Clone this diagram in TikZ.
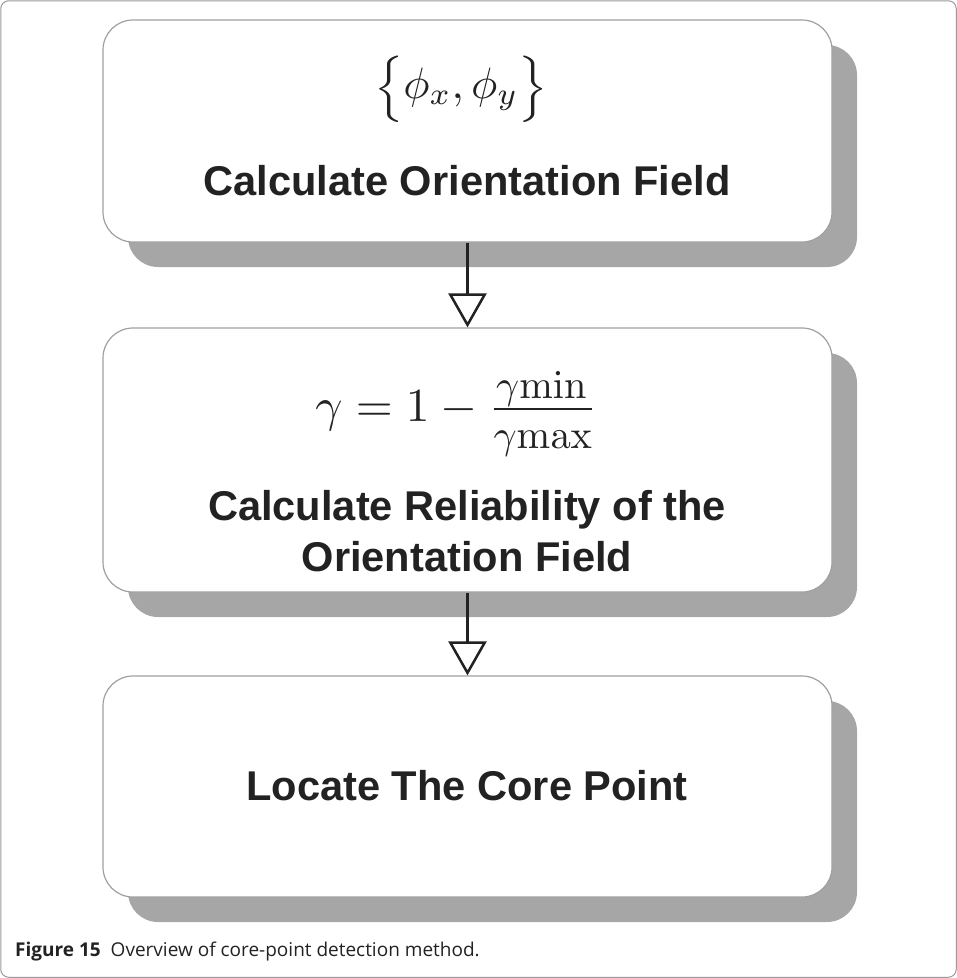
\documentclass[tikz,border=0pt]{standalone}
\usepackage[no-math]{fontspec}
\usepackage{graphicx}
\setmainfont{Liberation Sans}
\newfontfamily\capfont{Open Sans}
\usetikzlibrary{shadows,arrows.meta}
\definecolor{boxline}{HTML}{A0A0A0}
\definecolor{shadowgray}{HTML}{A6A6A6}
\definecolor{framecol}{HTML}{9A9A9A}
\definecolor{inkcol}{HTML}{222222}
\newcommand{\lbr}{\scalebox{1}[0.84]{$\Bigl\{$}}
\newcommand{\rbr}{\scalebox{1}[0.84]{$\Bigr\}$}}
\begin{document}
\begin{tikzpicture}[x=1pt,y=-1pt,
  box/.style={draw=boxline, line width=1.2pt, fill=white, rounded corners=30pt,
    minimum width=729pt, inner sep=0pt,
    drop shadow={shadow xshift=25pt, shadow yshift=-25pt, fill=shadowgray, opacity=1}},
  lbl/.style={text=inkcol, font=\fontsize{41.6}{51}\selectfont\bfseries, inner sep=0pt, anchor=base},
  mathtxt/.style={text=inkcol, inner sep=0pt},
  arr/.style={line width=2.5pt, draw=inkcol,
    -{Triangle[open, length=34pt, width=38pt, fill=white, line width=2.5pt]}},
  frame/.style={draw=framecol, line width=1pt, rounded corners=8pt}]
\useasboundingbox (0,0) rectangle (957,978);
\draw[frame] (0.75,0.75) rectangle (956.25,977.25);
\node[box, minimum height=222pt] (b1) at (467.5,131) {};
\node[box, minimum height=264pt] (b2) at (467.5,460) {};
\node[box, minimum height=221pt] (b3) at (467.5,786.5) {};
\node[mathtxt] (m1) at (461,89) {\scalebox{4.4}{$\mathopen{\lbr}\phi_x,\phi_y\mathclose{\rbr}$}};
\node[lbl] (t1) at (467,195) {Calculate Orientation Field};
\node[mathtxt, anchor=base] (m2) at (456.5,421) {\scalebox{4.75}{$\gamma = 1-\frac{\scalebox{0.85}{$\gamma\mathrm{min}$}}{\rule{0pt}{7.6pt}\scalebox{0.85}{$\gamma\mathrm{max}$}}$}};
\node[lbl] (t2a) at (467,520) {Calculate Reliability of the};
\node[lbl] (t2b) at (467,571) {Orientation Field};
\node[lbl] (t3) at (467,800) {Locate The Core Point};
\draw[arr] (b1.south) -- (b2.north);
\draw[arr] (b2.south) -- (b3.north);
\node[anchor=base west, inner sep=0pt, text=inkcol, font=\capfont\fontsize{19}{22}\selectfont] (cap) at (15,956)
  {\textbf{Figure 15}\hspace{10pt}Overview of core-point detection method.};
\end{tikzpicture}
\end{document}
